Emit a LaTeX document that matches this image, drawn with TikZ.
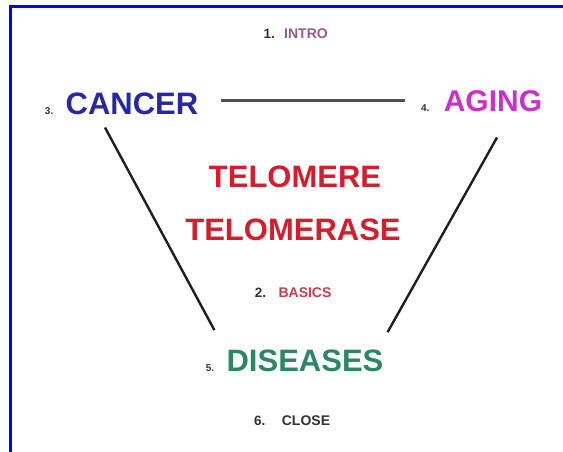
\documentclass[tikz,border=0pt]{standalone}
\usepackage{fontspec}
\setmainfont{Liberation Sans}
\usepackage{xcolor}
\usetikzlibrary{calc,positioning}
\definecolor{cancerblue}{RGB}{40,40,165}
\definecolor{agingpink}{RGB}{200,50,200}
\definecolor{telored}{RGB}{210,30,45}
\definecolor{diseasegreen}{RGB}{45,135,100}
\definecolor{intromauve}{RGB}{150,90,140}
\definecolor{basicsred}{RGB}{200,60,80}
\definecolor{numgray}{RGB}{50,50,50}
\definecolor{bargray}{RGB}{80,80,80}
\definecolor{diaggray}{RGB}{30,30,30}
\tikzset{
  topic/.style={inner sep=0pt,anchor=base,font=\fontsize{31}{31}\selectfont\bfseries},
  num/.style={inner sep=0pt,text=numgray,font=\fontsize{10}{10}\selectfont\bfseries},
  % outline parts
  part/.style={inner sep=0pt,anchor=base,font=\fontsize{14}{14}\selectfont\bfseries},
  partnum/.style={inner sep=0pt,text=numgray,font=\fontsize{13.5}{13.5}\selectfont\bfseries},
  % connectors
  bar/.style={line width=3.2pt,draw=bargray},
  diag/.style={line width=2.4pt,draw=diaggray},
}

\begin{document}
\begin{tikzpicture}[x=1pt,y=-1pt]
\useasboundingbox (0,0) rectangle (563,452);
%% ===== frame =====
\draw[blue,line width=2.5pt] (10.5,452) |- (563,6.5);

%% ===== outline: 1, 2, 6 =====
\node[part,text=intromauve] (intro) at (306,38.5) {INTRO};
\node[partnum,base left=9pt of intro] (n1) {1.};
\node[part,text=basicsred] (basics) at (305,297) {BASICS};
\node[partnum,base left=12pt of basics] (n2) {2.};
\node[part,text=numgray] (close) at (306,425) {CLOSE};
\node[partnum,base left=16pt of close] (n6) {6.};

%% ===== topics =====
\node[topic,text=cancerblue] (cancer) at (132,114) {CANCER};
\node[num,base left=12pt of cancer] (n3) {3.};
\node[topic,text=agingpink,font=\fontsize{30}{30}\selectfont\bfseries] (aging) at (493,112) {AGING};
\node[num,base left=14pt of aging] (n4) {4.};
\node[topic,text=diseasegreen] (diseases) at (305,371) {DISEASES};
\node[num,base left=12pt of diseases] (n5) {5.};

\node[topic,text=telored] (telomere) at (295,187) {TELOMERE};
\node[topic,text=telored] (telomerase) at (293,240) {TELOMERASE};

%% ===== triangle =====
\draw[bar] ($(cancer.east)+(22,-3)$) -- ($(cancer.east -| n4.west)+(-16,-3)$);
\draw[diag] ($(cancer.south)+(-27,13)$) -- ($(diseases.north west)+(-12,-19)$);
\draw[diag] ($(aging.south)+(4,25)$) -- ($(diseases.north east)+(4,-17)$);
\end{tikzpicture}
\end{document}
